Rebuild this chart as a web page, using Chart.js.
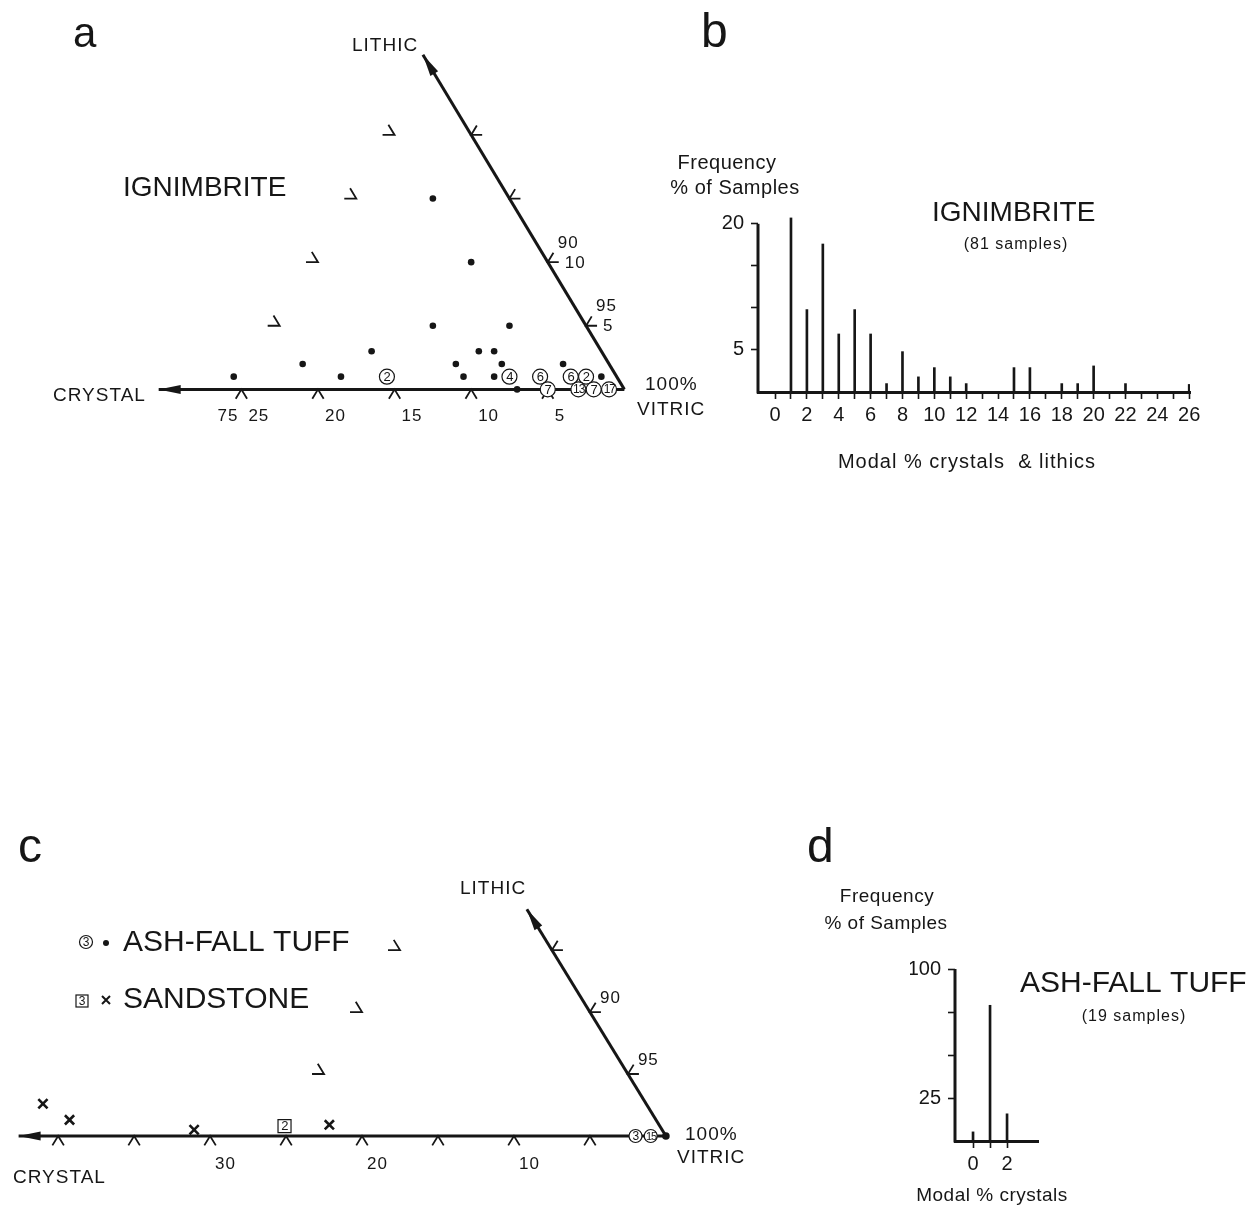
<!DOCTYPE html>
<html>
<head>
<meta charset="utf-8">
<title>Ignimbrite and ash-fall tuff: crystal, lithic and vitric components</title>
<script src="https://cdn.jsdelivr.net/npm/chart.js@4.4.1/dist/chart.umd.min.js"></script>
<style>
  html, body { margin: 0; padding: 0; background: #fff; }
  #page { position: relative; width: 1257px; height: 1206px; overflow: hidden; background: #fff; }
  #page canvas { position: absolute; }
</style>
</head>
<body>
<div id="page">
  <canvas id="panelA" width="715" height="480" style="left:0;top:0"></canvas>
  <canvas id="panelB" width="597" height="500" style="left:660px;top:0"></canvas>
  <canvas id="panelC" width="800" height="386" style="left:0;top:820px"></canvas>
  <canvas id="panelD" width="457" height="391" style="left:800px;top:815px"></canvas>
</div>
<script>
/* Global Vars */
var FONT = '"Liberation Sans", Arial, Helvetica, sans-serif';
var INK = '#161616';
var SIN60 = Math.sqrt(3) / 2;

/* a: ignimbrite samples, (crystal %, lithic %) */
var ignDotCrystal = [5, 5, 10, 5, 15, 8, 7, 20, 10, 7, 3, 25, 18, 10, 8, 1, 7];
var ignDotLithic  = [15, 10, 5, 5, 3, 3, 3, 2, 2, 2, 2, 1, 1, 1, 1, 1, 0];
// several samples at one spot -> circled count
var ignGroupCrystal = [15, 7, 5, 5, 3, 2, 3, 2, 1];
var ignGroupLithic  = [1, 1, 1, 0, 1, 1, 0, 0, 0];
var ignGroupCount   = [2, 4, 6, 7, 6, 2, 13, 7, 17];
var ignCrystalTicks = [25, 20, 15, 10, 5];
var ignLithicTicks = [5, 10, 15, 20];
var ignLithicLabelled = [5, 10];

/* b: ignimbrite histogram, % of 81 samples */
var ignBins = [1, 2, 3, 4, 5, 6, 7, 8, 9, 10, 11, 12, 15, 16, 18, 19, 20, 22, 26];
var ignFreq = [20.7, 9.8, 17.6, 6.9, 9.8, 6.9, 1.0, 4.8, 1.8, 2.9, 1.8, 1.0, 2.9, 2.9, 1.0, 1.0, 3.1, 1.0, 0.9];

/* c: ash-fall tuff and sandstone, (crystal %, lithic %) */
var tuffDotCrystal = [0];
var tuffDotLithic = [0];
var tuffGroupCrystal = [2, 1];
var tuffGroupLithic = [0, 0];
var tuffGroupCount = [3, 15];
var sandCrystal = [39.7, 38.6, 30.8, 21.7];
var sandLithic = [2.6, 1.3, 0.5, 0.9];
var sandGroupCrystal = [24.7];
var sandGroupLithic = [0.8];
var sandGroupCount = [2];
var tuffCrystalTicks = [40, 35, 30, 25, 20, 15, 10, 5];
var tuffCrystalLabelled = [30, 20, 10];
var tuffLithicTicks = [5, 10, 15];
var tuffLithicLabelled = [5, 10];

/* d: ash-fall tuff histogram, % of 19 samples */
var tuffBins = [0, 1, 2];
var tuffFreq = [5.3, 78.9, 15.8];

/* helpers */
function tern(c, l) {
  return { x: c + l / 2, y: l * SIN60 };
}
function ternList(cs, ls) {
  return cs.map(function (c, i) { return tern(c, ls[i]); });
}
function pix(chart, c, l) {
  var p = tern(c, l);
  return { x: chart.scales.x.getPixelForValue(p.x), y: chart.scales.y.getPixelForValue(p.y) };
}
function unit(a, b) {
  var dx = b.x - a.x, dy = b.y - a.y, n = Math.hypot(dx, dy);
  return { x: dx / n, y: dy / n };
}
function neg(d) { return { x: -d.x, y: -d.y }; }

function text(ctx, s, x, y, size, align, spacing, baseline) {
  ctx.save();
  ctx.font = size + 'px ' + FONT;
  ctx.fillStyle = INK;
  ctx.textAlign = align || 'left';
  ctx.textBaseline = baseline || 'middle';
  if ('letterSpacing' in ctx) ctx.letterSpacing = (spacing || 0) + 'px';
  ctx.fillText(s, x, y);
  ctx.restore();
}

function chevron(ctx, p, d1, d2, len) {
  ctx.beginPath();
  ctx.moveTo(p.x + d1.x * len, p.y + d1.y * len);
  ctx.lineTo(p.x, p.y);
  ctx.lineTo(p.x + d2.x * len, p.y + d2.y * len);
  ctx.stroke();
}

function arrowHead(ctx, from, tip, len, hw) {
  var d = unit(from, tip);
  var bx = tip.x - d.x * len, by = tip.y - d.y * len;
  ctx.beginPath();
  ctx.moveTo(tip.x, tip.y);
  ctx.lineTo(bx - d.y * hw, by + d.x * hw);
  ctx.lineTo(bx + d.y * hw, by - d.x * hw);
  ctx.closePath();
  ctx.fill();
}

function axisSet(from, to) {
  return { data: [from, to], showLine: true, borderColor: INK, borderWidth: 3, pointRadius: 0, order: 10 };
}

/* decorations of a ternary panel: ticks, arrows, counts, labels */
function ternaryDecor(cfg) {
  return {
    id: 'ternDecor',
    beforeDatasetsDraw: function (chart) {
      var ctx = chart.ctx;
      var o = pix(chart, 0, 0);
      var lith = unit(o, pix(chart, 0, 1));
      var vit = unit(pix(chart, 1, 0), pix(chart, 0, 1));
      var right = unit(pix(chart, 1, 0), o);
      ctx.save();
      ctx.strokeStyle = INK;
      ctx.lineWidth = 1.8;
      cfg.crystalTicks.forEach(function (c) {
        chevron(ctx, pix(chart, c, 0), neg(lith), neg(vit), 11);
      });
      cfg.lithicTicks.forEach(function (l) {
        chevron(ctx, pix(chart, 0, l), right, vit, 11);
        chevron(ctx, pix(chart, cfg.edge - l, l), neg(right), lith, 12);
      });
      ctx.restore();
    },
    afterDatasetsDraw: function (chart) {
      var ctx = chart.ctx;
      var o = pix(chart, 0, 0);
      ctx.save();
      ctx.fillStyle = INK;
      arrowHead(ctx, o, pix(chart, cfg.crystalEnd, 0), 22, 4.5);
      arrowHead(ctx, o, pix(chart, 0, cfg.lithicEnd), 22, 4.5);
      ctx.restore();

      chart.data.datasets.forEach(function (ds, i) {
        if (!ds.counts) return;
        chart.getDatasetMeta(i).data.forEach(function (pt, j) {
          var n = String(ds.counts[j]);
          text(ctx, n, pt.x + 0.3, pt.y + 0.8, n.length > 1 ? ds.countSize - 1 : ds.countSize, 'center', n.length > 1 ? -1 : 0);
        });
      });

      cfg.crystalLabelled.forEach(function (c, k) {
        var p = pix(chart, c, 0);
        text(ctx, String(c), p.x + cfg.baseDx, p.y + cfg.baseDy, 17, 'left', 1);
        if (cfg.cornerVitric && k === 0) text(ctx, String(100 - c), p.x - 3, p.y + cfg.baseDy, 17, 'right', 1);
      });
      cfg.lithicLabelled.forEach(function (l) {
        var p = pix(chart, 0, l);
        text(ctx, String(100 - l), p.x + 10, p.y + cfg.vitDy, 17, 'left', 1);
        if (cfg.lithicNumbers) text(ctx, String(l), p.x + 17, p.y + 1, 17, 'left', 1);
      });
      cfg.labels(ctx);
    }
  };
}

function ternaryChart(id, geo, datasets, decor) {
  var cv = document.getElementById(id);
  var ax = geo.apexX - geo.left, ay = geo.apexY - geo.top;
  return new Chart(cv, {
    type: 'scatter',
    data: { datasets: datasets },
    options: {
      responsive: false,
      animation: false,
      events: [],
      layout: { padding: 0 },
      plugins: { legend: { display: false }, tooltip: { enabled: false } },
      scales: {
        x: { display: false, reverse: true, min: (ax - cv.width) / geo.kx, max: ax / geo.kx },
        y: { display: false, min: (ay - cv.height) / geo.ky, max: ay / geo.ky }
      }
    },
    plugins: [decor]
  });
}

/* histogram panels */
function histogram(id, bins, freq, o) {
  var cv = document.getElementById(id);
  return new Chart(cv, {
    type: 'bar',
    data: {
      datasets: [{
        data: bins.map(function (b, i) { return { x: b, y: freq[i] }; }),
        backgroundColor: INK,
        barThickness: 2,
        order: 1
      }]
    },
    options: {
      responsive: false,
      animation: false,
      events: [],
      layout: { padding: o.pad },
      plugins: { legend: { display: false }, tooltip: { enabled: false } },
      scales: {
        x: {
          type: 'linear', min: o.xMin, max: o.xMax, offset: false,
          grid: {
            offset: false, drawOnChartArea: false, drawTicks: true, tickLength: 7, tickWidth: 1.6,
            tickColor: function (c) { return c.tick && o.xTickShown(c.tick.value) ? INK : 'rgba(0,0,0,0)'; }
          },
          border: { display: true, color: INK, width: 3 },
          ticks: {
            stepSize: 1, autoSkip: false, includeBounds: false, maxRotation: 0, padding: 4, color: INK,
            font: { family: FONT, size: 20 },
            callback: function (v) { return o.xLabelShown(v) ? String(v) : ''; }
          },
          afterFit: function (s) { s.height = o.xHeight; }
        },
        y: {
          min: 0, max: o.yMax,
          grid: {
            drawOnChartArea: false, drawTicks: true, tickLength: 7, tickWidth: 1.6,
            tickColor: function (c) { return c.tick && c.tick.value > 0 ? INK : 'rgba(0,0,0,0)'; }
          },
          border: { display: false },
          ticks: {
            stepSize: o.yStep, autoSkip: false, includeBounds: false, padding: 7, color: INK,
            font: { family: FONT, size: 20 },
            callback: function (v) { return o.yLabels.indexOf(v) >= 0 ? String(v) : ''; }
          },
          afterFit: function (s) { s.width = o.yWidth; }
        }
      }
    },
    plugins: [{
      id: 'histDecor',
      afterDatasetsDraw: function (chart) {
        var ctx = chart.ctx, ys = chart.scales.y, a = chart.chartArea;
        ctx.save();
        ctx.strokeStyle = INK;
        ctx.lineWidth = 3;
        ctx.beginPath();
        ctx.moveTo(a.left, ys.getPixelForValue(0) + 1.5);
        ctx.lineTo(a.left, ys.getPixelForValue(o.yAxisTop));
        ctx.stroke();
        ctx.restore();
        o.labels(ctx);
      }
    }]
  });
}

/* a */
ternaryChart('panelA', { left: 0, top: 0, apexX: 631, apexY: 395, kx: 15.7, ky: 13.2 / SIN60 }, [
  axisSet(tern(0, 0), tern(30.4, 0)),
  axisSet(tern(0, 0), tern(0, 26.3)),
  { data: ternList(ignDotCrystal, ignDotLithic), pointRadius: 3.3, pointBackgroundColor: INK, pointBorderWidth: 0, order: 5 },
  { data: ternList(ignGroupCrystal, ignGroupLithic), counts: ignGroupCount, countSize: 13,
    pointRadius: 7.5, pointBackgroundColor: '#fff', pointBorderColor: INK, pointBorderWidth: 1.2, order: 1 }
], ternaryDecor({
  crystalTicks: ignCrystalTicks, crystalLabelled: ignCrystalTicks, lithicTicks: ignLithicTicks,
  lithicLabelled: ignLithicLabelled, lithicNumbers: true, cornerVitric: true,
  edge: 25, crystalEnd: 30.4, lithicEnd: 26.3, baseDx: 7, baseDy: 27, vitDy: -19,
  labels: function (ctx) {
    text(ctx, 'a', 73, 47, 42, 'left', 0, 'alphabetic');
    text(ctx, 'LITHIC', 352, 46, 19, 'left', 1);
    text(ctx, 'CRYSTAL', 53, 396, 19, 'left', 1);
    text(ctx, '100%', 645, 385, 19, 'left', 1);
    text(ctx, 'VITRIC', 637, 410, 19, 'left', 1);
    text(ctx, 'IGNIMBRITE', 123, 188, 28, 'left', 0);
  }
}));

/* b */
histogram('panelB', ignBins, ignFreq, {
  pad: { left: 48, right: 67, top: 207, bottom: 68 },
  yWidth: 50, xHeight: 40, xMin: -1.07, xMax: 26.05, yMax: 22, yStep: 5, yAxisTop: 20,
  yLabels: [5, 20],
  xTickShown: function (v) { return v >= 0; },
  xLabelShown: function (v) { return v >= 0 && v % 2 === 0; },
  labels: function (ctx) {
    var dx = -660;
    text(ctx, 'b', 701 + dx, 47, 48, 'left', 0, 'alphabetic');
    text(ctx, 'Frequency', 727 + dx, 163, 20, 'center', 0.5);
    text(ctx, '% of Samples', 735 + dx, 188, 20, 'center', 0.5);
    text(ctx, 'IGNIMBRITE', 932 + dx, 213, 28, 'left', 0);
    text(ctx, '(81 samples)', 1016 + dx, 245, 16, 'center', 1);
    text(ctx, 'Modal % crystals  & lithics', 967 + dx, 462, 20, 'center', 1);
  }
});

/* c */
ternaryChart('panelC', { left: 0, top: 820, apexX: 673, apexY: 1143, kx: 15.6, ky: 13.1 / SIN60 }, [
  axisSet(tern(0, 0), tern(42.6, 0)),
  axisSet(tern(0, 0), tern(0, 18.3)),
  { data: ternList(tuffDotCrystal, tuffDotLithic), pointRadius: 3.8, pointBackgroundColor: INK, pointBorderWidth: 0, order: 5 },
  { data: ternList(sandCrystal, sandLithic), pointStyle: 'crossRot', pointRadius: 6.5,
    pointBorderColor: INK, pointBorderWidth: 2.6, order: 4 },
  { data: ternList(tuffGroupCrystal, tuffGroupLithic), counts: tuffGroupCount, countSize: 12,
    pointRadius: 6.5, pointBackgroundColor: '#fff', pointBorderColor: INK, pointBorderWidth: 1.2, order: 1 },
  { data: ternList(sandGroupCrystal, sandGroupLithic), counts: sandGroupCount, countSize: 13,
    pointStyle: 'rect', pointRadius: 9.2, pointBackgroundColor: '#fff', pointBorderColor: INK, pointBorderWidth: 1.2, order: 1 }
], ternaryDecor({
  crystalTicks: tuffCrystalTicks, crystalLabelled: tuffCrystalLabelled, lithicTicks: tuffLithicTicks,
  lithicLabelled: tuffLithicLabelled, lithicNumbers: false, cornerVitric: false,
  edge: 25, crystalEnd: 42.6, lithicEnd: 18.3, baseDx: 5, baseDy: 28, vitDy: -14,
  labels: function (ctx) {
    var dy = -820;
    text(ctx, 'c', 18, 862 + dy, 48, 'left', 0, 'alphabetic');
    text(ctx, 'LITHIC', 460, 889 + dy, 19, 'left', 1);
    text(ctx, 'CRYSTAL', 13, 1178 + dy, 19, 'left', 1);
    text(ctx, '100%', 685, 1135 + dy, 19, 'left', 1);
    text(ctx, 'VITRIC', 677, 1158 + dy, 19, 'left', 1);
    // legend
    ctx.save();
    ctx.strokeStyle = INK;
    ctx.fillStyle = INK;
    ctx.lineWidth = 1.2;
    ctx.beginPath();
    ctx.arc(86, 942 + dy, 6.5, 0, Math.PI * 2);
    ctx.stroke();
    ctx.beginPath();
    ctx.arc(106, 943 + dy, 3, 0, Math.PI * 2);
    ctx.fill();
    ctx.strokeRect(76, 995 + dy, 12, 12);
    ctx.lineWidth = 2;
    ctx.beginPath();
    ctx.moveTo(102, 996 + dy); ctx.lineTo(110, 1004 + dy);
    ctx.moveTo(110, 996 + dy); ctx.lineTo(102, 1004 + dy);
    ctx.stroke();
    ctx.restore();
    text(ctx, '3', 86, 942.5 + dy, 12, 'center', 0);
    text(ctx, '3', 82, 1001.5 + dy, 12, 'center', 0);
    text(ctx, 'ASH-FALL TUFF', 123, 943 + dy, 30, 'left', 0);
    text(ctx, 'SANDSTONE', 123, 1000 + dy, 30, 'left', 0);
  }
}));

/* d */
histogram('panelD', tuffBins, tuffFreq, {
  pad: { left: 110, right: 219, top: 154, bottom: 25 },
  yWidth: 45, xHeight: 40, xMin: -1.06, xMax: 3.82, yMax: 100, yStep: 25, yAxisTop: 100,
  yLabels: [25, 100],
  xTickShown: function (v) { return v >= 0 && v <= 2; },
  xLabelShown: function (v) { return v === 0 || v === 2; },
  labels: function (ctx) {
    var dx = -800, dy = -815;
    text(ctx, 'd', 807 + dx, 862 + dy, 48, 'left', 0, 'alphabetic');
    text(ctx, 'Frequency', 887 + dx, 897 + dy, 19, 'center', 0.5);
    text(ctx, '% of Samples', 886 + dx, 924 + dy, 19, 'center', 0.5);
    text(ctx, 'ASH-FALL TUFF', 1020 + dx, 984 + dy, 30, 'left', 0);
    text(ctx, '(19 samples)', 1134 + dx, 1017 + dy, 16, 'center', 1);
    text(ctx, 'Modal % crystals', 992 + dx, 1196 + dy, 19, 'center', 0.5);
  }
});
</script>
</body>
</html>
